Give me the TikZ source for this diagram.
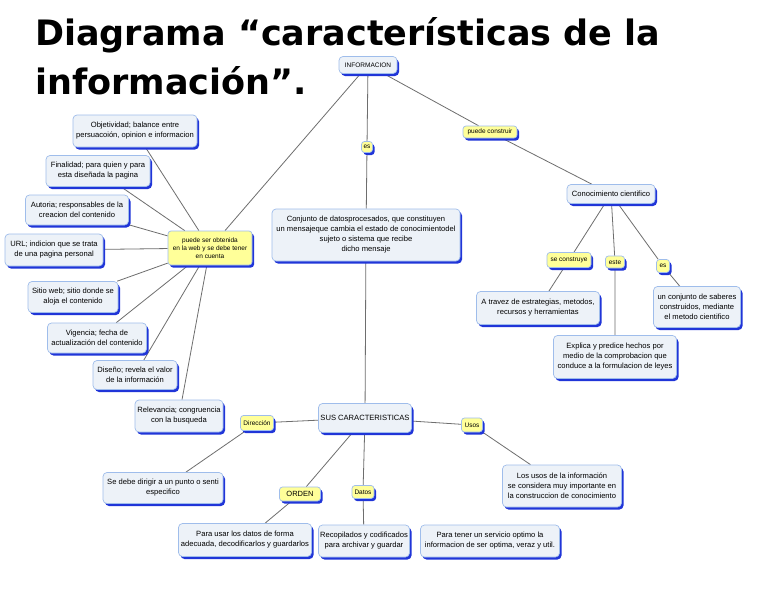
\documentclass[tikz,border=0pt]{standalone}
\usepackage{fontspec}
\setmainfont{Liberation Sans}
\newfontfamily\titlefont{DejaVu Sans}
\usetikzlibrary{shadows,backgrounds}
\definecolor{boxfill}{HTML}{EDF2F8}
\definecolor{boxline}{HTML}{9FBDEB}
\definecolor{shadowblue}{HTML}{2035D8}
\definecolor{linkfill}{HTML}{FFFF99}
\definecolor{edgegray}{HTML}{6E6E6E}
\tikzset{
  cbox/.style={draw=boxline, fill=boxfill, rounded corners=4pt, line width=0.7pt,
    align=center, inner sep=1pt, font=\fontsize{7.6}{10}\selectfont,
    drop shadow={shadow xshift=2pt, shadow yshift=-2.5pt, fill=shadowblue, opacity=1}},
  lbox/.style={cbox, fill=linkfill, font=\fontsize{6.5}{8}\selectfont, rounded corners=3pt},
  edge/.style={draw=edgegray, line width=0.8pt},
  titletext/.style={anchor=base west, inner sep=0pt, font=\titlefont\bfseries\fontsize{35}{48}\selectfont}
}
\begin{document}
\begin{tikzpicture}[x=1pt,y=-1pt]
\useasboundingbox (0,0) rectangle (768,594);
% title
\node[titletext] (title1) at (35,46) {Diagrama “características de la};
\node[titletext] (title2) at (35,94) {información”.};
% nodes
\node[cbox, minimum width=58pt, minimum height=17pt, font=\fontsize{6.5}{8}\selectfont] (info) at (368,65) {INFORMACION};
\node[lbox, minimum width=11pt, minimum height=11pt] (es1) at (367,147) {es};
\node[lbox, minimum width=54pt, minimum height=12pt] (pc) at (490,132) {puede construir};
\node[cbox, minimum width=188pt, minimum height=52pt] (conj) at (366,235) {Conjunto de datosprocesados, que constituyen\\un mensajeque cambia el estado de conocimientodel\\sujeto o sistema que recibe\\dicho mensaje};
\node[cbox, minimum width=88pt, minimum height=19pt] (conoc) at (611,194) {Conocimiento cientifico};
\node[lbox, minimum width=44pt, minimum height=15pt] (sc) at (569,260) {se construye};
\node[lbox, minimum width=19pt, minimum height=12pt] (este) at (615,262) {este};
\node[lbox, minimum width=13pt, minimum height=13pt] (es2) at (663,266) {es};
\node[cbox, minimum width=123pt, minimum height=33pt] (atr) at (538,308) {A travez de estrategias, metodos,\\recursos y herramientas};
\node[cbox, minimum width=87pt, minimum height=41pt] (unc) at (697,307) {un conjunto de saberes\\construidos, mediante\\el metodo cientifico};
\node[cbox, minimum width=123pt, minimum height=43pt] (expl) at (615,357) {Explica y predice hechos por\\medio de la comprobacion que\\conduce a la formulacion de leyes};
\node[lbox, minimum width=84pt, minimum height=34pt] (pso) at (210,248) {puede ser obtenida\\en la web y se debe tener\\en cuenta};
\node[cbox, minimum width=124pt, minimum height=32pt] (obj) at (135,131) {Objetividad; balance entre\\persuacoión, opinion e informacion};
\node[cbox, minimum width=104pt, minimum height=31pt] (fin) at (98,171) {Finalidad; para quien y para\\esta diseñada la pagina};
\node[cbox, minimum width=103pt, minimum height=30pt] (aut) at (77,210) {Autoria; responsables de la\\creacion del contenido};
\node[cbox, minimum width=98pt, minimum height=32pt] (url) at (54,250) {URL; indicion que se trata\\de una pagina personal};
\node[cbox, minimum width=90pt, minimum height=31pt] (sit) at (73,297) {Sitio web; sitio donde se\\aloja el contenido};
\node[cbox, minimum width=99pt, minimum height=30pt] (vig) at (97,338) {Vigencia; fecha de\\actualización del contenido};
\node[cbox, minimum width=84pt, minimum height=29pt] (dis) at (135,375) {Diseño; revela el valor\\de la información};
\node[cbox, minimum width=88pt, minimum height=32pt] (rel) at (179,416) {Relevancia; congruencia\\con la busqueda};
\node[cbox, minimum width=93pt, minimum height=29pt] (sus) at (365,418) {SUS CARACTERISTICAS};
\node[lbox, minimum width=33pt, minimum height=15pt] (dir) at (257,423) {Dirección};
\node[cbox, minimum width=120pt, minimum height=31pt] (sed) at (163,488) {Se debe dirigir a un punto o senti\\especifico};
\node[lbox, minimum width=41pt, minimum height=14pt, font=\fontsize{7.5}{9}\selectfont] (ord) at (300,494) {ORDEN};
\node[lbox, minimum width=22pt, minimum height=13pt] (dat) at (363,492) {Datos};
\node[cbox, minimum width=133pt, minimum height=33pt] (pu) at (245,540) {Para usar los datos de forma\\adecuada, decodificarlos y guardarlos};
\node[cbox, minimum width=91pt, minimum height=32pt] (rec) at (364,541) {Recopilados y codificados\\para archivar y guardar};
\node[lbox, minimum width=21pt, minimum height=14pt] (uso) at (472,425) {Usos};
\node[cbox, minimum width=119pt, minimum height=42pt] (lus) at (562,486) {Los usos de la información\\se considera muy importante en\\la construccion de conocimiento};
\node[cbox, minimum width=139pt, minimum height=32pt] (pte) at (490,541) {Para tener un servicio optimo la\\informacion de ser optima, veraz y util.};
% connectors
\begin{scope}[on background layer]
\fill[white] (0,0) rectangle (768,594);
\path[edge] (info) -- (pso);
\path[edge] (info) -- (es1) -- (conj);
\path[edge] (info) -- (pc) -- (conoc);
\path[edge] (conoc) -- (sc) -- (atr);
\path[edge] (conoc) -- (este) -- (expl);
\path[edge] (conoc) -- (es2) -- (unc);
\foreach \n in {obj,fin,aut,url,sit,vig,dis,rel} \path[edge] (pso) -- (\n);
\path[edge] (conj) -- (sus);
\path[edge] (sus) -- (dir) -- (sed);
\path[edge] (sus) -- (ord) -- (pu);
\path[edge] (sus) -- (dat) -- (rec);
\path[edge] (sus) -- (uso) -- (lus);
\end{scope}
\end{tikzpicture}
\end{document}
